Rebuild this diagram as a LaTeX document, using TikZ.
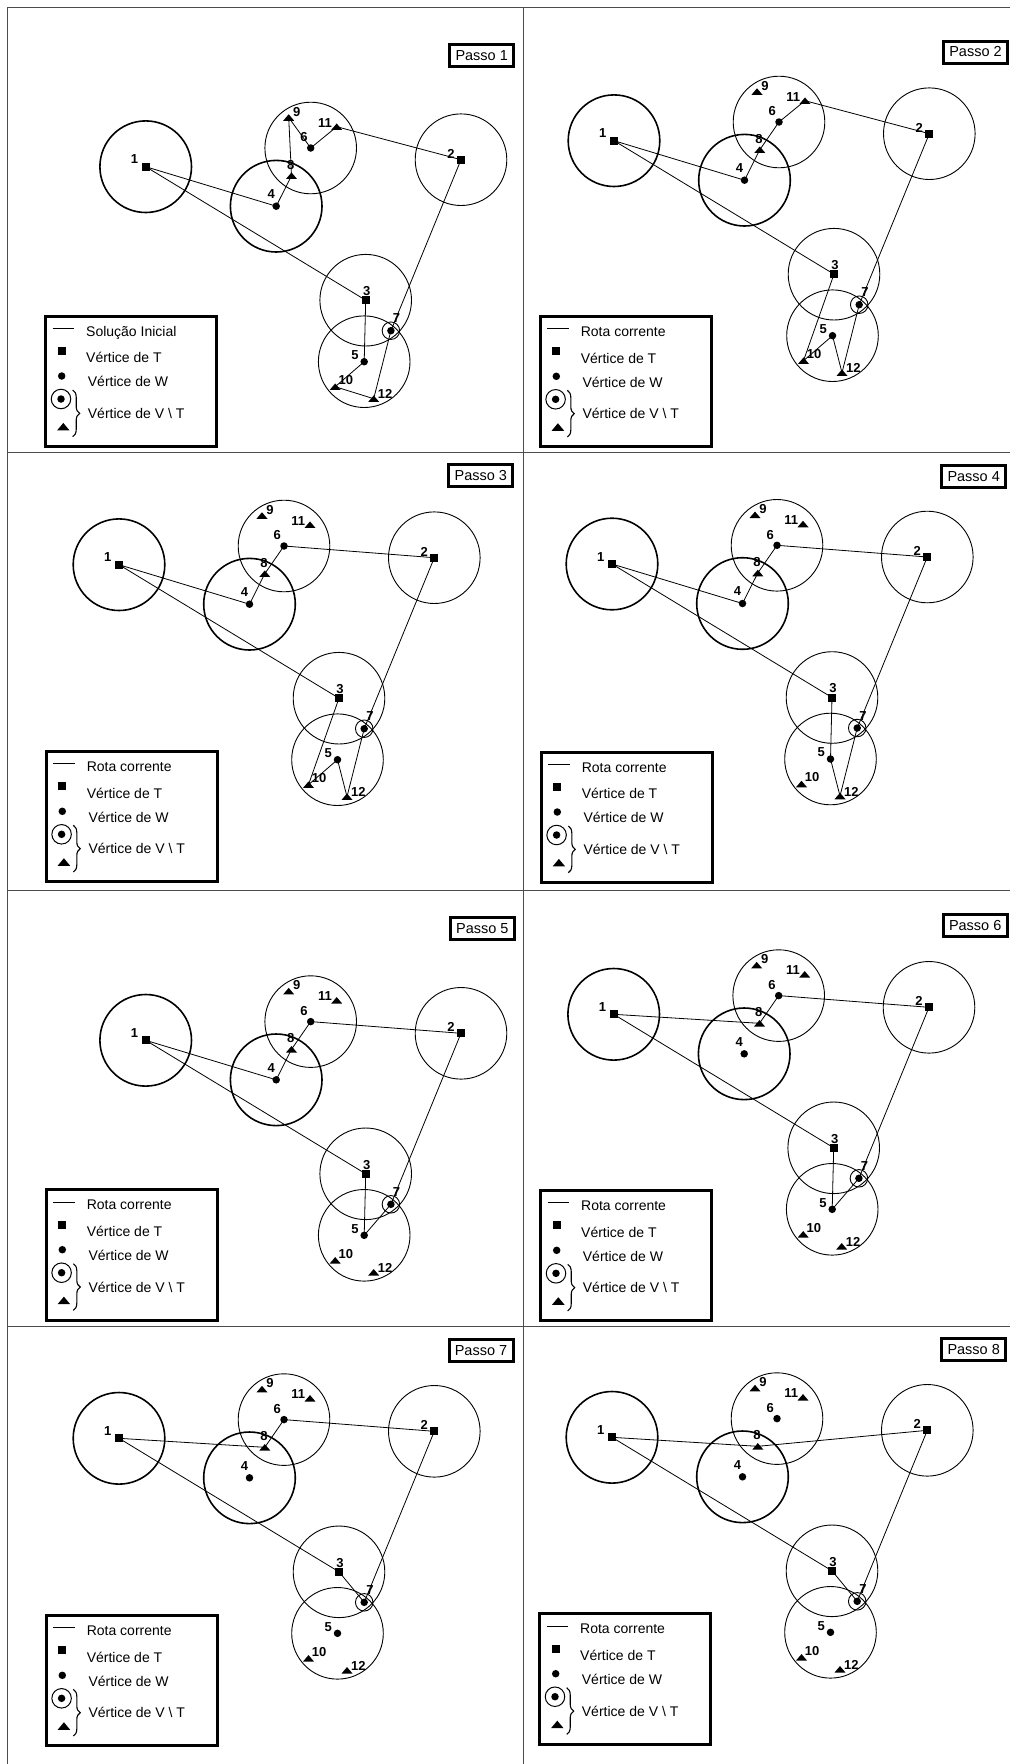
\documentclass[tikz,border=0pt]{standalone}
\usepackage{fontspec}
\setmainfont{Liberation Sans}
\usetikzlibrary{decorations.pathreplacing}

% one step of the route construction: zones, vertices and their numbers
\newcommand\stepgraph[2]{%
  \begin{scope}[shift={#2}]
    \draw[zonebold] (0,0) circle[radius=45.8];
    \draw[zone] (315.3,-7) circle[radius=45.8];
    \draw[zone] (220,133.5) circle[radius=45.8];
    \draw[zonebold] (130.5,39.5) circle[radius=45.8];
    \draw[zone] (218.5,195) circle[radius=45.8];
    \draw[zone] (165,-18.7) circle[radius=45.8];
    \node[tsq] (#1n1) at (0,0) {};
    \node[tsq] (#1n2) at (315.3,-7) {};
    \node[tsq] (#1n3) at (220,133.5) {};
    \node[wdot] (#1n4) at (130.5,39.5) {};
    \node[wdot] (#1n5) at (218.5,195) {};
    \node[wdot] (#1n6) at (165,-18.7) {};
    \node[wdot] (#1n7) at (245.2,164) {};
    \node[ring] (#1r7) at (245.2,164) {};
    \node[tri] (#1n8) at (145.8,9) {};
    \node[tri] (#1n9) at (143,-49.2) {};
    \node[tri] (#1n10) at (189.5,220) {};
    \node[tri] (#1n11) at (191,-40) {};
    \node[tri] (#1n12) at (228,232) {};
    \node[lbl] (#1l1) at (-11.3,-7.3) {1};
    \node[lbl] (#1l2) at (305.3,-13) {2};
    \node[lbl] (#1l3) at (221,124.5) {3};
    \node[lbl] (#1l4) at (125.5,27.5) {4};
    \node[lbl] (#1l5) at (209.2,188.3) {5};
    \node[lbl] (#1l6) at (158.3,-29.4) {6};
    \node[lbl] (#1l7) at (250.9,151.7) {7};
    \node[lbl] (#1l8) at (145.1,-2) {8};
    \node[lbl] (#1l9) at (151,-54.9) {9};
    \node[lbl] (#1l10) at (200.2,213.3) {10};
    \node[lbl] (#1l11) at (179.3,-44) {11};
    \node[lbl] (#1l12) at (239.3,227.7) {12};
  \end{scope}}

% legend box, placed by its top left corner
\newcommand\stepkey[3]{%
  \begin{scope}[shift={#2}]
    \node[legbox] (#1box) at (1.5,1.5) {};
    \coordinate (#1la) at (10,15.3);
    \coordinate (#1lb) at (31.3,15.3);
    \draw[routeline] (#1la) -- (#1lb);
    \node[legtxt] (#1t1) at (43.3,23) {#3};
    \node[tsq] (#1sq) at (19,38) {};
    \node[legtxt] (#1t2) at (43.3,49.7) {Vértice de T};
    \node[wdot] (#1dot) at (19,63) {};
    \node[legtxt] (#1t3) at (45,73.7) {Vértice de W};
    \node[wdot] (#1dv) at (18.3,86) {};
    \node[ring,minimum size=19.5pt,line width=1pt] (#1rv) at (18.3,86) {};
    \node[tri,minimum width=12.5pt,minimum height=7.5pt] (#1tv) at (20.6,113.7) {};
    \coordinate (#1ba) at (30,77);
    \coordinate (#1bb) at (30,123.7);
    \draw[decorate,decoration={brace,amplitude=7pt,aspect=0.5},line width=1.1pt]
      (#1ba) -- (#1bb);
    \node[legtxt] (#1t4) at (45,105.3) {Vértice de V \textbackslash{} T};
  \end{scope}}

\begin{document}
\begin{tikzpicture}[x=1pt,y=-1pt,
  frame/.style={draw=black!70,line width=1pt},
  zone/.style={line width=0.9pt},
  zonebold/.style={line width=1.6pt},
  tsq/.style={rectangle,fill=black,inner sep=0pt,minimum size=8pt},
  wdot/.style={circle,fill=black,inner sep=0pt,minimum size=7.5pt},
  tri/.style={rectangle,inner sep=0pt,minimum width=11pt,minimum height=6.5pt,
    path picture={\fill (path picture bounding box.south west) --
      (path picture bounding box.south east) --
      (path picture bounding box.north) -- cycle;}},
  ring/.style={circle,draw,line width=0.9pt,inner sep=0pt,minimum size=17.5pt},
  lbl/.style={font=\bfseries\fontsize{13}{13}\selectfont,inner sep=0pt},
  routeline/.style={line width=0.8pt},
  passo/.style={draw,line width=3pt,minimum width=64pt,minimum height=22pt,
    inner sep=0pt,font=\fontsize{14.5}{14.5}\selectfont},
  legbox/.style={draw,line width=3pt,inner sep=0pt,minimum width=171pt,
    minimum height=130.5pt,anchor=north west},
  legtxt/.style={anchor=base west,inner sep=0pt,font=\fontsize{14}{14}\selectfont},
]
\useasboundingbox (0,0) rectangle (1010,1764);

% grid of the eight steps
\draw[frame] (1010,7.3) -- (7.3,7.3) -- (7.3,1764);
\draw[frame] (523.3,7.3) -- (523.3,1764);
\draw[frame] (7.3,452.3) -- (1010,452.3);
\draw[frame] (7.3,890) -- (1010,890);
\draw[frame] (7.3,1326.5) -- (1010,1326.5);

% step 1
\stepgraph{a}{(145.7,166.7)}
\draw[routeline] (an1.center) -- (an4.center) -- (an8.center) -- (an9.center)
  -- (an6.center) -- (an11.center) -- (an2.center) -- (an7.center)
  -- (an12.center) -- (an10.center) -- (an5.center) -- (an3.center) -- (an1.center);
\node[passo] (apasso) at (481.7,55.2) {Passo 1};
\stepkey{ak}{(42.7,313)}{Solução Inicial}

% step 2
\stepgraph{b}{(614,140.7)}
\draw[routeline] (bn1.center) -- (bn4.center) -- (bn8.center) -- (bn6.center)
  -- (bn11.center) -- (bn2.center) -- (bn7.center) -- (bn12.center)
  -- (bn5.center) -- (bn10.center) -- (bn3.center) -- (bn1.center);
\node[passo] (bpasso) at (975.5,52) {Passo 2};
\stepkey{bk}{(537.3,313.3)}{Rota corrente}

% step 3
\stepgraph{c}{(119,564.7)}
\draw[routeline] (cn1.center) -- (cn4.center) -- (cn8.center) -- (cn6.center)
  -- (cn2.center) -- (cn7.center) -- (cn12.center) -- (cn5.center)
  -- (cn10.center) -- (cn3.center) -- (cn1.center);
\node[passo] (cpasso) at (480.8,475.8) {Passo 3};
\stepkey{ck}{(43.3,748.3)}{Rota corrente}

% step 4
\stepgraph{d}{(612,564)}
\draw[routeline] (dn1.center) -- (dn4.center) -- (dn8.center) -- (dn6.center)
  -- (dn2.center) -- (dn7.center) -- (dn12.center) -- (dn5.center)
  -- (dn3.center) -- (dn1.center);
\node[passo] (dpasso) at (973.7,476.2) {Passo 4};
\stepkey{dk}{(538.3,749)}{Rota corrente}

% step 5
\stepgraph{e}{(145.7,1040.3)}
\draw[routeline] (en1.center) -- (en4.center) -- (en8.center) -- (en6.center)
  -- (en2.center) -- (en7.center) -- (en5.center) -- (en3.center) -- (en1.center);
\node[passo] (epasso) at (482.3,928.8) {Passo 5};
\stepkey{ek}{(43.3,1186.7)}{Rota corrente}

% step 6
\stepgraph{f}{(613.7,1014.3)}
\draw[routeline] (fn1.center) -- (fn8.center) -- (fn6.center) -- (fn2.center)
  -- (fn7.center) -- (fn5.center) -- (fn3.center) -- (fn1.center);
\node[passo] (fpasso) at (975.2,925.8) {Passo 6};
\stepkey{fk}{(537.7,1187.3)}{Rota corrente}

% step 7
\stepgraph{g}{(119,1438.3)}
\draw[routeline] (gn1.center) -- (gn8.center) -- (gn6.center) -- (gn2.center)
  -- (gn7.center) -- (gn3.center) -- (gn1.center);
\node[passo] (gpasso) at (481,1350.5) {Passo 7};
\stepkey{gk}{(43.3,1612.3)}{Rota corrente}

% step 8
\stepgraph{h}{(612,1437.3)}
\draw[routeline] (hn1.center) -- (hn8.center) -- (hn2.center) -- (hn7.center)
  -- (hn3.center) -- (hn1.center);
\node[passo] (hpasso) at (973.7,1349.7) {Passo 8};
\stepkey{hk}{(536.7,1610.7)}{Rota corrente}

\end{tikzpicture}
\end{document}
